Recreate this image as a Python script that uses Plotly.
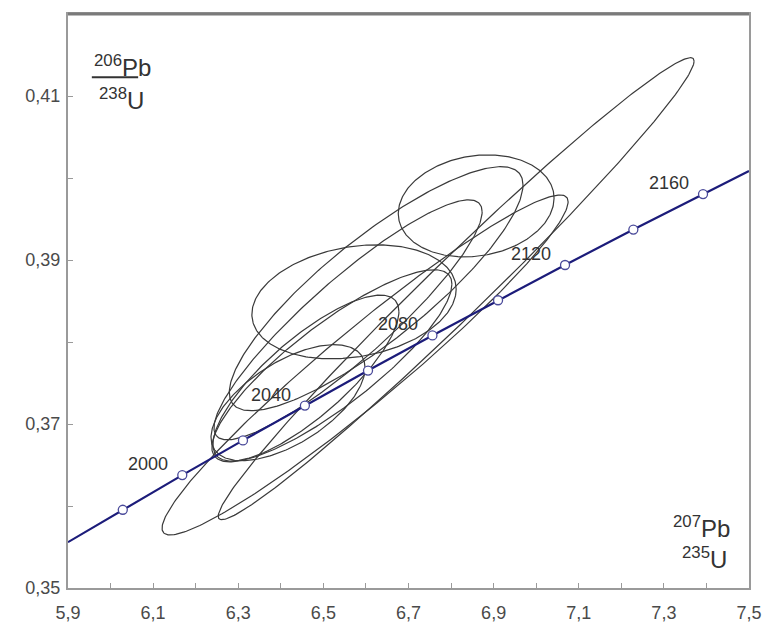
import numpy as np
import plotly.graph_objects as go

# Concordia reference points (207Pb/235U, 206Pb/238U) every 20 Ma
conc_ages = [1980, 2000, 2020, 2040, 2060, 2080, 2100, 2120, 2140, 2160]
conc_x = [6.0287, 6.1685, 6.3111, 6.4566, 6.6049, 6.7562, 6.9104, 7.0678, 7.2283, 7.3920]
conc_y = [0.35954, 0.36377, 0.36800, 0.37225, 0.37652, 0.38080, 0.38509, 0.38939, 0.39371, 0.39804]
# curve continued to the frame edges
conc_line_x = [5.9] + conc_x + [7.5]
conc_line_y = [0.35559] + conc_y + [0.40086]
labelled_ages = [2000, 2040, 2080, 2120, 2160]

# Analyses: 207Pb/235U, error, 206Pb/238U, error, error correlation
ell_x = [6.859, 6.572, 6.520, 6.459, 6.417, 6.812, 6.598, 6.624, 6.558]
ell_sx = [0.183, 0.240, 0.282, 0.2185, 0.181, 0.559, 0.477, 0.345, 0.315]
ell_y = [0.3966, 0.3849, 0.3771, 0.3756, 0.3726, 0.3865, 0.3772, 0.3865, 0.3827]
ell_sy = [0.00622, 0.00695, 0.01171, 0.01012, 0.00707, 0.02817, 0.02073, 0.01488, 0.01463]
ell_rho = [0.15, 0.22, 0.85, 0.80, 0.60, 0.985, 0.96, 0.85, 0.90]

fig = go.Figure()

t = np.linspace(0, 2 * np.pi, 300)
for cx, sx, cy, sy, r in zip(ell_x, ell_sx, ell_y, ell_sy, ell_rho):
    ex = cx + sx * np.cos(t)
    ey = cy + sy * (r * np.cos(t) + np.sqrt(1 - r * r) * np.sin(t))
    fig.add_trace(go.Scatter(x=ex, y=ey, mode="lines",
                             line=dict(color="#3a3a3a", width=1.2),
                             hoverinfo="skip", showlegend=False))

fig.add_trace(go.Scatter(x=conc_line_x, y=conc_line_y, mode="lines",
                         line=dict(color="#1c1c7a", width=2.2),
                         hoverinfo="skip", showlegend=False))
fig.add_trace(go.Scatter(x=conc_x, y=conc_y, mode="markers",
                         marker=dict(size=9, color="white",
                                     line=dict(color="#4a4a9a", width=1.3)),
                         showlegend=False))

ann = []
for a, x, y in zip(conc_ages, conc_x, conc_y):
    if a in labelled_ages:
        ann.append(dict(x=x, y=y, xref="x", yref="y", text=str(a), showarrow=False,
                        xanchor="right", yanchor="middle", xshift=-12, yshift=11,
                        font=dict(size=18, color="#333333")))

font_lab = dict(family="Liberation Sans, Arial", size=24, color="#333333")
ann += [
    dict(x=0.035, y=0.880, xref="paper", yref="paper", text="<sup>206</sup>Pb",
         showarrow=False, xanchor="left", yanchor="bottom", font=font_lab),
    dict(x=0.043, y=0.882, xref="paper", yref="paper", text="<sup>238</sup>U",
         showarrow=False, xanchor="left", yanchor="top", font=font_lab),
    dict(x=0.975, y=0.106, xref="paper", yref="paper", text="<sup>207</sup>Pb",
         showarrow=False, xanchor="right", yanchor="middle", font=font_lab),
    dict(x=0.970, y=0.052, xref="paper", yref="paper", text="<sup>235</sup>U",
         showarrow=False, xanchor="right", yanchor="middle", font=font_lab),
]

fig.update_layout(
    width=765, height=622,
    margin=dict(l=68, r=16, t=14, b=34, autoexpand=False),
    plot_bgcolor="white", paper_bgcolor="white",
    separators=", ",
    font=dict(family="Liberation Sans, Arial", size=18, color="#4a4a4a"),
    annotations=ann,
    shapes=[
        dict(type="line", xref="paper", yref="paper",
             x0=0.035, x1=0.103, y0=0.890, y1=0.890,
             line=dict(color="#333333", width=2)),
        dict(type="line", xref="paper", yref="paper",
             x0=0, x1=1, y0=1, y1=1,
             line=dict(color="#7a7a7a", width=3)),
    ],
    xaxis=dict(range=[5.9, 7.5], tick0=5.9, dtick=0.2, tickformat=".1f",
               automargin=False, ticklabelstandoff=7,
               showgrid=False, zeroline=False, showline=True, mirror=True,
               linecolor="#9a9a9a", linewidth=2, ticks="inside", ticklen=5,
               tickcolor="#9a9a9a",
               minor=dict(tick0=5.9, dtick=0.1, ticks="inside", ticklen=5,
                          tickcolor="#9a9a9a", showgrid=False),
               tickfont=dict(size=18, color="#4a4a4a")),
    yaxis=dict(range=[0.35, 0.42], tick0=0.35, dtick=0.02, tickformat=".2f",
               automargin=False, ticklabelstandoff=2,
               showgrid=False, zeroline=False, showline=True, mirror=True,
               linecolor="#9a9a9a", linewidth=2, ticks="inside", ticklen=5,
               tickcolor="#9a9a9a",
               minor=dict(tick0=0.35, dtick=0.01, ticks="inside", ticklen=5,
                          tickcolor="#9a9a9a", showgrid=False),
               tickfont=dict(size=18, color="#4a4a4a")),
)

fig.write_html("out.html")
